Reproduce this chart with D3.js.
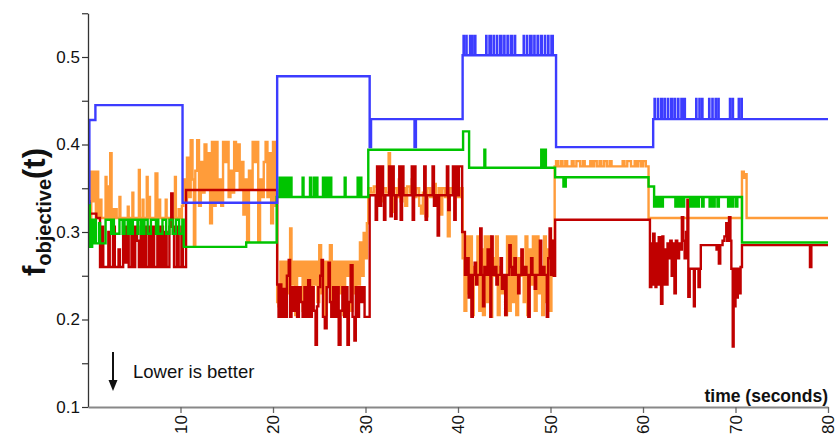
<!DOCTYPE html>
<html><head><meta charset="utf-8">
<script src="https://cdn.jsdelivr.net/npm/d3@7"></script>
<style>body{margin:0;background:#fff}svg{display:block}text{font-family:"Liberation Sans",Arial,sans-serif}</style>
</head><body><svg id="c" width="840" height="435"></svg>
<script>
const xTicks=[10,20,30,40,50,60,70,80];
const yMajor=[0.1,0.2,0.3,0.4,0.5];
const yMinor=[0.15,0.25,0.35,0.45,0.55];
const xTitle="time (seconds)";
const note="Lower is better";

const blue=[[0,0.333],[0.15,0.428],[0.8,0.445],[10.22,0.3335],[20.45,0.478],[30.45,0.397],[30.6,0.429],[35.3,0.397],[35.45,0.429],
[40.5,0.502],[40.6,0.524],[40.63,0.502],[40.9,0.524],[40.93,0.502],[41.3,0.524],[41.4,0.502],[41.55,0.524],[41.58,0.502],[41.85,0.524],[41.88,0.502],
[43.05,0.524],[43.08,0.502],[43.4,0.524],[43.55,0.502],[43.85,0.524],[43.88,0.502],[44.2,0.524],[44.23,0.502],[44.55,0.524],[44.7,0.502],[45.0,0.524],[45.03,0.502],[45.35,0.524],[45.38,0.502],[45.7,0.524],[45.85,0.502],[46.15,0.524],[46.18,0.502],
[47.1,0.524],[47.13,0.502],[47.45,0.524],[47.48,0.502],[47.8,0.524],[47.95,0.502],[48.25,0.524],[48.28,0.502],[48.6,0.524],[48.63,0.502],[48.95,0.524],[49.07,0.502],[49.4,0.524],[49.43,0.502],[49.75,0.524],[49.78,0.502],[50.1,0.524],[50.25,0.502],[50.6,0.397],
[61.1,0.429],[61.25,0.452],[61.28,0.429],[61.6,0.452],[61.63,0.429],[61.95,0.452],[62.07,0.429],[62.35,0.452],[62.38,0.429],[62.7,0.452],[62.73,0.429],[63.05,0.452],[63.17,0.429],[63.45,0.452],[63.48,0.429],[63.8,0.452],[63.83,0.429],[64.15,0.452],[64.25,0.429],[64.5,0.452],[64.53,0.429],
[65.75,0.452],[65.78,0.429],[66.1,0.452],[66.13,0.429],[66.4,0.452],[66.43,0.429],
[67.15,0.452],[67.18,0.429],[67.5,0.452],[67.53,0.429],[67.85,0.452],[67.88,0.429],[68.15,0.452],[68.18,0.429],
[69.4,0.452],[69.43,0.429],[69.7,0.452],[69.73,0.429],[70.35,0.452],[70.38,0.429],[70.65,0.452],[70.68,0.429],[80,0.429]];

const green=[[0,0.333],[0.2,0.283],[0.45,0.314],[0.6,0.287],[0.75,0.314],[0.85,0.287],[1.2,0.31],[1.3,0.287],[1.9,0.314],
[2.5,0.298],[2.7,0.314],[2.8,0.298],[3.4,0.314],[3.75,0.298],[3.95,0.314],[4.3,0.298],[4.5,0.314],[4.6,0.298],[4.85,0.314],[5.35,0.298],[5.45,0.314],[5.75,0.298],[5.9,0.314],[6.0,0.298],[6.1,0.314],[6.45,0.298],[6.8,0.314],[7.35,0.298],[7.5,0.314],[7.6,0.298],[8.05,0.314],[8.45,0.298],[8.8,0.314],[9.15,0.298],[9.5,0.314],[9.85,0.298],[10.2,0.314],[10.35,0.283],[17.1,0.288],
[20.4,0.340],[20.7,0.362],[20.8,0.340],[21.0,0.362],[21.1,0.340],[21.3,0.362],[21.4,0.340],[21.6,0.362],[21.7,0.340],[21.9,0.362],[22.0,0.340],[23.2,0.362],[23.3,0.340],[24.0,0.362],[24.1,0.340],[24.4,0.362],[24.5,0.340],[24.7,0.362],[24.8,0.340],[25.4,0.362],[25.5,0.340],[25.7,0.362],[25.8,0.340],[26.0,0.362],[26.1,0.340],[26.2,0.362],[26.3,0.340],[27.75,0.362],[27.85,0.340],[29.15,0.362],[29.25,0.340],[29.45,0.362],[29.55,0.340],
[30.3,0.394],[40.55,0.415],[41.2,0.3735],[42.85,0.394],[42.95,0.3735],[49.0,0.394],[49.1,0.3735],[49.3,0.394],[49.5,0.3735],[50.5,0.3625],[51.4,0.352],[51.65,0.3625],[60.6,0.352],
[61.2,0.329],[61.4,0.340],[61.6,0.329],[61.75,0.340],[62.0,0.329],[62.15,0.340],[63.5,0.329],[63.65,0.340],[63.9,0.329],[64.05,0.340],[64.3,0.329],[64.45,0.340],[65.1,0.329],[65.25,0.340],[65.5,0.329],[65.65,0.340],[65.9,0.329],[66.05,0.340],[66.4,0.329],[66.55,0.340],[67.2,0.329],[67.35,0.340],[67.6,0.329],[67.75,0.340],[68.05,0.329],[68.2,0.340],[69.2,0.329],[69.35,0.340],[69.6,0.329],[69.75,0.340],[70.05,0.329],[70.2,0.340],[70.7,0.288],[80,0.288]];

const orange=[[0,0.33],[0.2,0.316],[0.35,0.369],[0.5,0.335],[0.6,0.369],[0.85,0.316],[1.0,0.369],[1.1,0.316],[1.35,0.337],[1.45,0.316],[1.9,0.363],[2.0,0.316],[2.1,0.352],[2.2,0.316],[2.4,0.39],[2.55,0.316],[2.7,0.326],[2.85,0.316],[3.0,0.326],[3.1,0.316],[3.4,0.340],[3.5,0.316],[4.3,0.329],[4.4,0.316],[4.8,0.345],[4.9,0.316],[5.5,0.371],[5.6,0.316],[5.9,0.337],[6.0,0.316],[6.35,0.363],[6.45,0.316],[6.6,0.340],[6.7,0.316],[7.3,0.367],[7.5,0.316],[7.7,0.337],[7.8,0.316],[8.4,0.337],[8.5,0.316],[9.4,0.363],[9.5,0.316],[9.8,0.326],[9.9,0.316],[10.15,0.33],
[10.3,0.36],[10.5,0.335],[10.7,0.385],[10.9,0.34],[11.1,0.405],[11.3,0.36],[11.45,0.285],[11.6,0.37],[11.8,0.405],[12.0,0.33],[12.2,0.38],[12.4,0.345],[12.6,0.40],[12.8,0.35],[13.0,0.39],[13.2,0.31],[13.4,0.403],[13.6,0.33],[13.8,0.403],[14.0,0.335],[14.2,0.36],[14.4,0.33],[14.6,0.403],[14.8,0.38],[15.0,0.403],[15.2,0.34],[15.4,0.37],[15.6,0.345],[15.8,0.403],[16.0,0.37],[16.2,0.40],[16.4,0.35],[16.6,0.38],[16.8,0.32],[17.0,0.36],[17.2,0.29],[17.4,0.37],[17.6,0.35],[17.8,0.403],[18.0,0.38],[18.2,0.403],[18.4,0.29],[18.6,0.36],[18.8,0.34],[19.0,0.38],[19.2,0.403],[19.4,0.34],[19.6,0.39],[19.8,0.31],[20.0,0.403],[20.2,0.33],
[20.45,0.22],[20.6,0.215],[20.8,0.266],[21.0,0.21],[21.2,0.266],[21.4,0.23],[21.6,0.266],[21.85,0.304],[22.0,0.24],[22.2,0.266],[22.4,0.205],[22.6,0.266],[22.8,0.25],[23.0,0.266],[23.2,0.21],[23.4,0.266],[23.6,0.23],[23.8,0.266],[24.0,0.205],[24.2,0.266],[24.4,0.24],[24.6,0.266],[24.8,0.22],[25.0,0.285],[25.2,0.23],[25.4,0.266],[25.6,0.205],[25.8,0.266],[26.0,0.24],[26.15,0.285],[26.35,0.22],[26.6,0.266],[26.8,0.21],[27.0,0.266],[27.2,0.23],[27.4,0.266],[27.6,0.205],[27.8,0.266],[28.0,0.25],[28.2,0.266],[28.4,0.21],[28.6,0.266],[28.8,0.23],[29.0,0.266],[29.2,0.24],[29.4,0.288],[29.6,0.25],[29.8,0.299],[30.0,0.27],[30.15,0.31],
[30.3,0.35],[30.6,0.345],[30.9,0.352],[31.2,0.34],[31.4,0.355],[31.7,0.335],[31.9,0.35],[32.2,0.345],[32.5,0.39],[32.65,0.35],[32.9,0.323],[33.1,0.35],[33.4,0.34],[33.6,0.36],[33.8,0.335],[34.0,0.35],[34.3,0.33],[34.5,0.352],[34.8,0.345],[35.0,0.36],[35.2,0.34],[35.5,0.35],[35.8,0.33],[36.0,0.321],[36.2,0.345],[36.5,0.318],[36.7,0.35],[37.0,0.34],[37.3,0.355],[37.6,0.335],[37.9,0.35],[38.05,0.32],[38.3,0.35],[38.6,0.34],[38.9,0.295],[39.1,0.35],[39.4,0.345],[39.7,0.355],[40.0,0.34],[40.3,0.35],
[40.5,0.27],[40.7,0.21],[40.9,0.295],[41.1,0.23],[41.3,0.295],[41.5,0.205],[41.7,0.26],[41.9,0.25],[42.1,0.295],[42.3,0.21],[42.5,0.28],[42.7,0.205],[42.9,0.295],[43.1,0.22],[43.3,0.295],[43.5,0.203],[43.7,0.27],[43.9,0.25],[44.1,0.295],[44.3,0.205],[44.5,0.26],[44.7,0.23],[44.9,0.25],[45.1,0.205],[45.3,0.295],[45.5,0.21],[45.7,0.295],[45.9,0.22],[46.1,0.295],[46.3,0.205],[46.5,0.27],[46.7,0.25],[46.9,0.26],[47.1,0.22],[47.3,0.295],[47.5,0.205],[47.7,0.28],[47.9,0.24],[48.1,0.295],[48.3,0.21],[48.5,0.295],[48.7,0.23],[48.9,0.26],[49.1,0.205],[49.3,0.295],[49.5,0.22],[49.7,0.28],[49.9,0.21],[50.1,0.29],[50.3,0.25],
[50.45,0.375],[50.6,0.381],[50.8,0.375],[51.1,0.381],[51.3,0.375],[51.6,0.381],[51.8,0.375],[52.3,0.381],[52.5,0.375],[52.8,0.381],[53.2,0.375],[53.5,0.381],[53.7,0.375],[54.3,0.381],[54.5,0.375],[54.7,0.381],[55.0,0.375],[55.3,0.381],[55.5,0.375],[55.8,0.381],[56.1,0.375],[56.4,0.381],[56.6,0.375],[57.8,0.381],[58.0,0.375],[58.3,0.381],[58.7,0.375],[59.1,0.381],[59.3,0.375],[59.5,0.381],[59.8,0.375],[60.0,0.381],[60.3,0.375],
[60.6,0.316],[70.7,0.369],[70.9,0.362],[71.05,0.366],[71.2,0.316],[80,0.316]];

const red=[[0,0.335],[0.15,0.321],[0.9,0.316],[1.3,0.26],[1.5,0.306],[1.65,0.26],[2.2,0.30],[2.35,0.26],[2.7,0.306],[2.9,0.26],[3.3,0.28],[3.45,0.26],[3.8,0.306],[4.0,0.265],[4.2,0.306],[4.4,0.26],[4.7,0.30],[4.85,0.26],[5.1,0.306],[5.3,0.29],[5.5,0.26],[5.7,0.306],[5.9,0.26],[6.1,0.306],[6.3,0.26],[6.6,0.306],[6.8,0.26],[7.0,0.306],[7.15,0.26],[7.5,0.306],[7.7,0.26],[7.9,0.306],[8.1,0.26],[8.35,0.30],[8.5,0.26],[8.8,0.306],[9.0,0.344],[9.15,0.306],[9.3,0.26],[9.6,0.306],[9.8,0.26],[10.1,0.306],[10.25,0.26],
[10.6,0.348],
[20.45,0.24],[20.6,0.203],[20.75,0.24],[20.9,0.203],[21.1,0.235],[21.3,0.203],[21.5,0.25],[21.7,0.268],[21.85,0.203],[22.0,0.237],[22.2,0.21],[22.4,0.237],[22.6,0.203],[22.8,0.237],[23.0,0.22],[23.2,0.203],[23.4,0.237],[23.6,0.203],[23.8,0.245],[24.0,0.203],[24.2,0.237],[24.4,0.21],[24.6,0.171],[24.75,0.215],[24.9,0.237],[25.1,0.25],[25.25,0.268],[25.4,0.203],[25.6,0.19],[25.8,0.237],[26.0,0.265],[26.15,0.22],[26.3,0.203],[26.5,0.237],[26.7,0.203],[26.9,0.237],[27.1,0.171],[27.3,0.21],[27.5,0.237],[27.7,0.203],[27.9,0.237],[28.05,0.171],[28.2,0.22],[28.4,0.262],[28.6,0.203],[28.8,0.176],[28.95,0.237],[29.1,0.203],[29.3,0.237],[29.5,0.22],[29.7,0.237],[29.9,0.203],
[30.45,0.342],[31.1,0.314],[31.25,0.375],[31.5,0.33],[31.7,0.375],[31.9,0.342],[32.0,0.314],[32.15,0.342],[32.55,0.375],[32.7,0.318],[32.85,0.375],[33.05,0.342],[33.2,0.315],[33.35,0.342],[33.65,0.375],[33.8,0.314],[33.95,0.375],[34.1,0.342],[35.0,0.375],[35.1,0.314],[35.25,0.375],[35.4,0.342],[36.35,0.375],[36.5,0.314],[36.65,0.342],[37.25,0.375],[37.4,0.33],[37.55,0.342],[37.8,0.296],[37.95,0.342],[38.8,0.375],[38.95,0.325],[39.1,0.342],[39.45,0.375],[39.6,0.314],[39.75,0.375],[39.9,0.342],[40.1,0.375],[40.45,0.30],
[40.75,0.251],[41.0,0.27],[41.15,0.225],[41.3,0.251],[41.45,0.203],[41.6,0.251],[41.8,0.265],[41.95,0.24],[42.1,0.251],[42.4,0.304],[42.55,0.251],[42.7,0.215],[42.85,0.26],[43.0,0.251],[43.2,0.28],[43.35,0.251],[43.5,0.203],[43.6,0.295],[43.75,0.251],[44.0,0.26],[44.15,0.24],[44.3,0.251],[44.6,0.27],[44.75,0.235],[44.9,0.251],[45.1,0.205],[45.25,0.251],[45.55,0.285],[45.7,0.26],[45.85,0.251],[46.1,0.27],[46.25,0.251],[46.5,0.23],[46.65,0.251],[46.85,0.28],[47.0,0.251],[47.2,0.26],[47.4,0.251],[47.6,0.203],[47.75,0.251],[47.9,0.27],[48.05,0.251],[48.3,0.235],[48.45,0.251],[48.85,0.29],[49.0,0.251],[49.2,0.26],[49.35,0.251],[49.6,0.203],[49.75,0.27],[49.9,0.304],[50.05,0.251],[50.2,0.29],[50.35,0.25],
[50.5,0.314],
[60.75,0.237],[60.9,0.287],[61.0,0.24],[61.1,0.298],[61.25,0.26],[61.35,0.237],[61.45,0.287],[61.55,0.24],[61.7,0.294],[61.85,0.25],[61.95,0.218],[62.1,0.295],[62.2,0.24],[62.35,0.28],[62.5,0.24],[62.65,0.287],[62.8,0.27],[62.95,0.29],[63.1,0.25],[63.25,0.287],[63.4,0.23],[63.55,0.29],[63.7,0.27],[63.9,0.287],[64.05,0.28],[64.2,0.317],[64.35,0.29],[64.5,0.27],[64.65,0.30],[64.8,0.337],[64.9,0.226],[65.05,0.258],[65.5,0.215],[65.6,0.258],[66.0,0.237],[66.15,0.258],
[66.25,0.285],[67.95,0.28],[68.05,0.285],[68.2,0.264],[68.35,0.285],[68.6,0.29],[68.8,0.295],[69.0,0.31],[69.1,0.29],[69.3,0.317],[69.45,0.29],[69.55,0.258],[69.7,0.169],[69.8,0.258],[69.9,0.215],[70.0,0.258],[70.1,0.225],[70.25,0.258],[70.4,0.23],[70.55,0.26],[70.7,0.285],[78.05,0.26],[78.2,0.285],[80,0.285]];

const series=[
  {data:orange,color:"#ff9c3a"},
  {data:red,color:"#c00000"},
  {data:green,color:"#00c400"},
  {data:blue,color:"#3c3cff"}
];

const svg=d3.select("#c");
const x=d3.scaleLinear().domain([0,80]).range([88,828]);
const y=d3.scaleLinear().domain([0.1,0.55]).range([407,13.25]);

const line=d3.line().x(d=>x(d[0])).y(d=>y(d[1])).curve(d3.curveStepAfter);
series.forEach(s=>{
  svg.append("path").attr("d",line(s.data)).attr("fill","none")
    .attr("stroke",s.color).attr("stroke-width",2.4);
});

// y axis
const yAxis=d3.axisLeft(y).tickValues(yMajor.concat(yMinor))
  .tickFormat(d=>yMajor.includes(d)?d.toFixed(1):"").tickSize(6).tickSizeOuter(0);
const gy=svg.append("g").attr("transform","translate(88,0)").call(yAxis);
gy.select(".domain").attr("stroke","#333").attr("stroke-width",1.3);
gy.selectAll(".tick line").attr("stroke","#333").attr("stroke-width",1.2);
gy.selectAll(".tick text").attr("font-size",17).attr("fill","#111").attr("x",-8)
  .style("font-family","'Liberation Sans',Arial,sans-serif");

// x axis
const xAxis=d3.axisBottom(x).tickValues(xTicks).tickFormat(d3.format("d")).tickSize(6).tickSizeOuter(0);
const gx=svg.append("g").attr("transform","translate(0,407)").call(xAxis);
gx.select(".domain").attr("stroke","#888").attr("stroke-width",2);
gx.selectAll(".tick line").attr("stroke","#666").attr("stroke-width",1.3);
gx.selectAll(".tick text").attr("font-size",17).attr("fill","#111")
  .attr("transform","rotate(-90)").attr("text-anchor","end")
  .attr("x",-8).attr("y",0).attr("dy","0.35em")
  .style("font-family","'Liberation Sans',Arial,sans-serif");

// x title
svg.append("text").attr("x",828).attr("y",402).attr("text-anchor","end")
  .attr("font-size",17.5).attr("font-weight","bold").attr("fill","#111").text(xTitle);

// y title
const yt=svg.append("text").attr("transform","translate(45,212) rotate(-90)")
  .attr("text-anchor","middle").attr("font-weight","bold").attr("fill","#111");
yt.append("tspan").attr("font-size",31).text("f");
yt.append("tspan").attr("font-size",20).attr("dy",6).text("objective");
yt.append("tspan").attr("font-size",31).attr("dy",-6).text("(t)");

// note with arrow
svg.append("line").attr("x1",113).attr("x2",113).attr("y1",352).attr("y2",382)
  .attr("stroke","#111").attr("stroke-width",2);
svg.append("path").attr("d","M108.5,380 L117.5,380 L113,391 Z").attr("fill","#111");
svg.append("text").attr("x",133).attr("y",378).attr("font-size",18.5).attr("fill","#111").text(note);
</script></body></html>
